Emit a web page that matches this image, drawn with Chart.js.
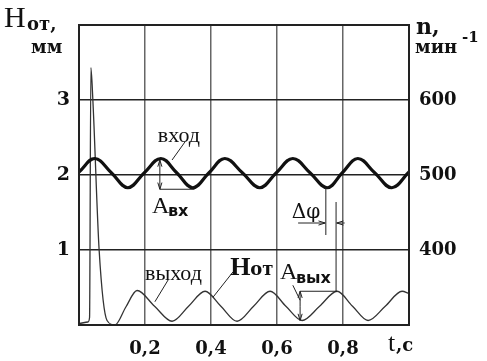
<!DOCTYPE html>
<html lang="ru">
<head>
<meta charset="UTF-8">
<title>Hот / n</title>
<script src="https://cdn.jsdelivr.net/npm/chart.js"></script>
<style>
    body { margin: 0; background: #fff; }
    #wrap { width: 487px; height: 361px; }
</style>
</head>
<body>
<div id="wrap"><canvas id="chart" width="487" height="361"></canvas></div>
<script>
// входной сигнал (n, в единицах левой оси: 2 = 500 мин-1)
const inT = [0, 0.048, 0.098, 0.148, 0.198, 0.248, 0.296, 0.345, 0.394, 0.442, 0.495, 0.548, 0.598, 0.648, 0.70, 0.752, 0.798, 0.845, 0.896, 0.948, 1.0];
const inV = [2.04, 2.22, 2.03, 1.83, 2.03, 2.22, 2.03, 1.83, 2.03, 2.22, 2.03, 1.83, 2.03, 2.22, 2.03, 1.83, 2.03, 2.22, 2.03, 1.83, 2.04];
// выход Hот, мм
const outT = [0, 0.027, 0.032, 0.036, 0.042, 0.061, 0.085, 0.109, 0.142, 0.176, 0.229, 0.282, 0.332, 0.382, 0.43, 0.479, 0.529, 0.579, 0.627, 0.676, 0.729, 0.782, 0.829, 0.876, 0.928, 0.979, 1.0];
const outV = [0.02, 0.04, 0.1, 3.43, 3.0, 1.0, 0.06, 0.0, 0.24, 0.46, 0.25, 0.05, 0.25, 0.45, 0.25, 0.05, 0.25, 0.45, 0.25, 0.06, 0.25, 0.45, 0.25, 0.06, 0.25, 0.45, 0.42];
const xTicks = [0.2, 0.4, 0.6, 0.8];
const leftTicks = [1, 2, 3];
const rightTicks = [400, 500, 600];

const serifB = 'bold 18px "DejaVu Serif"';

function pts(t, v) { return t.map((x, i) => ({ x: x, y: v[i] })); }

function arrow(ctx, x1, y1, x2, y2, head) {
    ctx.beginPath(); ctx.moveTo(x1, y1); ctx.lineTo(x2, y2); ctx.stroke();
    if (!head) return;
    const a = Math.atan2(y2 - y1, x2 - x1);
    ctx.beginPath();
    ctx.moveTo(x2, y2);
    ctx.lineTo(x2 - 7 * Math.cos(a - 0.3), y2 - 7 * Math.sin(a - 0.3));
    ctx.moveTo(x2, y2);
    ctx.lineTo(x2 - 7 * Math.cos(a + 0.3), y2 - 7 * Math.sin(a + 0.3));
    ctx.stroke();
}

const decor = {
    id: 'decor',
    afterDraw(chart) {
        const ctx = chart.ctx, a = chart.chartArea;
        const X = v => chart.scales.x.getPixelForValue(v);
        const Y = v => chart.scales.y.getPixelForValue(v);
        ctx.save();
        // рамка
        ctx.strokeStyle = '#222'; ctx.lineWidth = 2;
        ctx.strokeRect(a.left, a.top, a.right - a.left, a.bottom - a.top);

        // выноски и размеры
        ctx.strokeStyle = '#222'; ctx.lineWidth = 1;
        arrow(ctx, X(0.282), Y(2.2), X(0.321), Y(2.44));   // вход
        arrow(ctx, X(0.27), Y(0.6), X(0.23), Y(0.31));     // выход
        arrow(ctx, X(0.467), Y(0.71), X(0.406), Y(0.37));  // Hот
        arrow(ctx, X(0.648), Y(0.53), X(0.67), Y(0.33));   // Aвых
        // Aвх
        arrow(ctx, X(0.245), Y(2.0), X(0.245), Y(2.2), true);
        arrow(ctx, X(0.245), Y(2.0), X(0.245), Y(1.81), true);
        arrow(ctx, X(0.245), Y(1.81), X(0.35), Y(1.81));
        // Aвых
        arrow(ctx, X(0.67), Y(0.25), X(0.67), Y(0.45), true);
        arrow(ctx, X(0.67), Y(0.25), X(0.67), Y(0.06), true);
        arrow(ctx, X(0.67), Y(0.45), X(0.782), Y(0.45));
        // Δφ
        arrow(ctx, X(0.748), Y(1.83), X(0.748), Y(1.2));
        arrow(ctx, X(0.779), Y(1.64), X(0.779), Y(0.45));
        arrow(ctx, X(0.664), Y(1.36), X(0.746), Y(1.36), true);
        arrow(ctx, X(0.805), Y(1.36), X(0.781), Y(1.36), true);

        // подписи в поле графика
        ctx.fillStyle = '#111'; ctx.textBaseline = 'alphabetic'; ctx.textAlign = 'left';
        ctx.font = '22px "Liberation Serif"';
        ctx.fillText('вход', X(0.239), Y(2.44));
        ctx.fillText('выход', X(0.2), Y(0.6));
        ctx.font = '24px "Liberation Serif"';
        ctx.fillText('A', X(0.221), Y(1.49));
        ctx.fillText('A', X(0.609), Y(0.61));
        ctx.font = 'bold 16px "DejaVu Sans"';
        ctx.fillText('вх', X(0.221) + 16, Y(1.46));
        ctx.fillText('вых', X(0.609) + 16, Y(0.56));
        ctx.font = '20px "DejaVu Serif"';
        ctx.fillText('Δφ', X(0.645), Y(1.43));
        ctx.font = 'bold 26px "Liberation Serif"';
        ctx.fillText('H', X(0.458), Y(0.67));
        ctx.font = serifB;
        ctx.fillText('от', X(0.458) + 20, Y(0.67));

        // заголовки осей
        ctx.font = '30px "Liberation Serif"';
        ctx.fillText('H', 4, 27);
        ctx.font = serifB;
        ctx.fillText('от,', 27, 30);
        ctx.fillText('мм', 31, 53);
        ctx.font = 'bold 22px "DejaVu Serif"';
        ctx.fillText('n,', 416, 34);
        ctx.font = serifB;
        ctx.fillText('мин', 415, 53);
        ctx.font = 'bold 15px "DejaVu Serif"';
        ctx.fillText('-1', 462, 42);
        ctx.font = '26px "Liberation Serif"';
        ctx.fillText('t', 388, 351);
        ctx.font = serifB;
        ctx.fillText(',c', 396, 351);
        ctx.restore();
    }
};

new Chart(document.getElementById('chart'), {
    type: 'line',
    data: {
        datasets: [
            {
                label: 'вход',
                data: pts(inT, inV),
                borderColor: '#111',
                borderWidth: 3.2,
                pointRadius: 0,
                tension: 0.4
            },
            {
                label: 'выход',
                data: pts(outT, outV),
                borderColor: '#333',
                borderWidth: 1.3,
                pointRadius: 0,
                cubicInterpolationMode: 'monotone'
            }
        ]
    },
    options: {
        responsive: false,
        animation: false,
        layout: { padding: { top: 25 } },
        plugins: { legend: { display: false }, tooltip: { enabled: false } },
        scales: {
            x: {
                type: 'linear', min: 0, max: 1,
                afterFit: s => { s.height = 36; },
                afterBuildTicks: s => { s.ticks = xTicks.map(v => ({ value: v })); },
                grid: { color: '#666', lineWidth: 1.5, drawTicks: false },
                border: { display: false },
                ticks: {
                    padding: 14, color: '#111', font: { family: 'DejaVu Serif', weight: 'bold', size: 18 },
                    callback: v => v.toFixed(1).replace('.', ',')
                }
            },
            y: {
                min: 0, max: 4,
                afterFit: s => { s.width = 79; },
                afterBuildTicks: s => { s.ticks = leftTicks.map(v => ({ value: v })); },
                grid: { color: '#222', lineWidth: 1.5, drawTicks: false },
                border: { display: false },
                ticks: { padding: 9, color: '#111', font: { family: 'DejaVu Serif', weight: 'bold', size: 19 } }
            },
            y2: {
                position: 'right', min: 300, max: 700,
                afterFit: s => { s.width = 78; },
                afterBuildTicks: s => { s.ticks = rightTicks.map(v => ({ value: v })); },
                grid: { display: false, drawTicks: false },
                border: { display: false },
                ticks: { padding: 10, color: '#111', font: { family: 'DejaVu Serif', weight: 'bold', size: 18 } }
            }
        }
    },
    plugins: [decor]
});
</script>
</body>
</html>
